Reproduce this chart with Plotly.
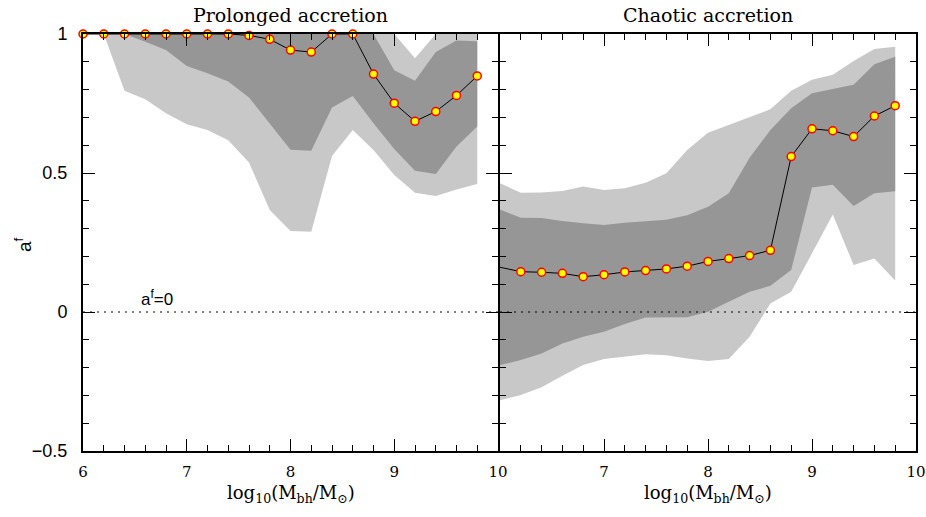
import plotly.graph_objects as go

# ---------------- data ----------------
mass = [6.0, 6.2, 6.4, 6.6, 6.8, 7.0, 7.2, 7.4, 7.6, 7.8,
        8.0, 8.2, 8.4, 8.6, 8.8, 9.0, 9.2, 9.4, 9.6, 9.8]

# Prolonged accretion
pro_median = [1.0, 1.0, 1.0, 1.0, 1.0, 1.0, 1.0, 1.0, 0.995, 0.981,
              0.942, 0.935, 1.0, 1.0, 0.856, 0.751, 0.686, 0.721, 0.779, 0.849]
pro_dark_hi = [1.0, 1.0, 1.0, 1.0, 1.0, 1.0, 1.0, 1.0, 1.0, 1.0,
               1.0, 1.0, 1.0, 1.0, 1.0, 0.870, 0.832, 0.935, 0.977, 0.974]
pro_dark_lo = [1.0, 1.0, 1.0, 0.972, 0.942, 0.885, 0.859, 0.829, 0.772, 0.676,
               0.584, 0.580, 0.736, 0.777, 0.679, 0.586, 0.508, 0.496, 0.595, 0.667]
pro_light_hi = [1.0, 1.0, 1.0, 1.0, 1.0, 1.0, 1.0, 1.0, 1.0, 1.0,
                1.0, 1.0, 1.0, 1.0, 1.0, 1.0, 0.913, 1.0, 1.0, 1.0]
pro_light_lo = [1.0, 1.0, 0.796, 0.765, 0.715, 0.675, 0.655, 0.618, 0.538, 0.367,
                0.291, 0.289, 0.561, 0.655, 0.583, 0.493, 0.429, 0.417, 0.441, 0.460]

# Chaotic accretion
cha_median = [0.161, 0.145, 0.143, 0.139, 0.127, 0.134, 0.144, 0.149, 0.155, 0.165,
              0.182, 0.192, 0.203, 0.222, 0.559, 0.659, 0.652, 0.631, 0.705, 0.742]
cha_dark_hi = [0.369, 0.339, 0.338, 0.327, 0.319, 0.313, 0.321, 0.326, 0.332, 0.348,
               0.379, 0.427, 0.555, 0.655, 0.733, 0.787, 0.801, 0.817, 0.891, 0.918]
cha_dark_lo = [-0.191, -0.173, -0.149, -0.113, -0.089, -0.071, -0.043, -0.020, -0.019, -0.019,
               0.001, 0.037, 0.073, 0.094, 0.151, 0.448, 0.458, 0.381, 0.427, 0.434]
cha_light_hi = [0.463, 0.429, 0.430, 0.435, 0.451, 0.439, 0.445, 0.465, 0.499, 0.583,
                0.645, 0.673, 0.699, 0.729, 0.796, 0.835, 0.853, 0.903, 0.946, 0.954]
cha_light_lo = [-0.317, -0.299, -0.271, -0.229, -0.191, -0.169, -0.161, -0.152, -0.156, -0.167,
                -0.176, -0.169, -0.089, 0.031, 0.073, 0.211, 0.351, 0.169, 0.192, 0.113]

x_tickvals_left = [6, 7, 8, 9, 10]
x_tickvals_right = [7, 8, 9, 10]
y_tickvals = [-0.5, 0, 0.5, 1]
y_ticktext = ["\u22120.5", "0", "0.5", "1"]
panel_titles = ["Prolonged accretion", "Chaotic accretion"]

# ---------------- styles ----------------
LIGHT = "#c8c8c8"
DARK = "#969696"
SERIF = "DejaVu Serif"
SANS = "Liberation Sans"

fig = go.Figure()


def add_panel(xa, ya, med, dhi, dlo, lhi, llo, marker_start):
    for hi, lo, col in [(lhi, llo, LIGHT), (dhi, dlo, DARK)]:
        fig.add_trace(go.Scatter(
            x=mass + mass[::-1], y=hi + lo[::-1], fill="toself",
            fillcolor=col, line=dict(width=0), mode="lines",
            xaxis=xa, yaxis=ya, hoverinfo="skip", showlegend=False))
    fig.add_trace(go.Scatter(
        x=[6, 10], y=[0, 0], mode="lines",
        line=dict(color="black", width=1, dash="2px,5px"),
        xaxis=xa, yaxis=ya, showlegend=False, hoverinfo="skip"))
    fig.add_trace(go.Scatter(
        x=mass, y=med, mode="lines", line=dict(color="black", width=1),
        xaxis=xa, yaxis=ya, showlegend=False, cliponaxis=False))
    fig.add_trace(go.Scatter(
        x=mass[marker_start:], y=med[marker_start:], mode="markers",
        marker=dict(size=8, color="yellow", line=dict(color="red", width=1.5)),
        xaxis=xa, yaxis=ya, showlegend=False, cliponaxis=False))


add_panel("x", "y", pro_median, pro_dark_hi, pro_dark_lo, pro_light_hi, pro_light_lo, 0)
add_panel("x2", "y2", cha_median, cha_dark_hi, cha_dark_lo, cha_light_hi, cha_light_lo, 1)

W, H = 926, 517
ML, MR, MT, MB = 83, 10, 34, 66
PW = W - ML - MR
split_l = (498 - ML) / PW
split_r = (500 - ML) / PW

common_x = dict(range=[6, 10], ticks="inside", ticklen=12, tickwidth=1, tickcolor="black",
                showline=True, linewidth=2, linecolor="black", mirror="allticks",
                showgrid=False, zeroline=False, automargin=False,
                minor=dict(dtick=0.2, ticklen=6, ticks="inside", tickcolor="black",
                           tickwidth=1, showgrid=False),
                tickfont=dict(family=SERIF, size=15, color="black"),
                ticklabelstandoff=6)
common_y = dict(range=[-0.5, 1], ticks="inside", ticklen=12, tickwidth=1, tickcolor="black",
                showline=True, linewidth=2, linecolor="black", mirror="allticks",
                showgrid=False, zeroline=False, automargin=False,
                tickvals=y_tickvals, ticktext=y_ticktext,
                minor=dict(dtick=0.1, ticklen=6, ticks="inside", tickcolor="black",
                           tickwidth=1, showgrid=False),
                tickfont=dict(family=SANS, size=18, color="black"),
                ticklabelstandoff=10)

fig.update_layout(
    width=W, height=H, autosize=False,
    margin=dict(l=ML, r=MR, t=MT, b=MB, autoexpand=False),
    plot_bgcolor="white", paper_bgcolor="white",
    xaxis=dict(domain=[0, split_l], anchor="y", tickvals=x_tickvals_left,
               ticktext=[str(v) for v in x_tickvals_left], **common_x),
    xaxis2=dict(domain=[split_r, 1], anchor="y2", tickvals=x_tickvals_right,
                ticktext=[str(v) for v in x_tickvals_right], **common_x),
    yaxis=dict(domain=[0, 1], anchor="x", **common_y),
    yaxis2=dict(domain=[0, 1], anchor="x2", showticklabels=False, **common_y),
)

xlabel = "log<sub>10</sub>(M<sub>bh</sub>/M<sub>\u2299</sub>)"
ann = []
for i, t in enumerate(panel_titles):
    ax = "x" if i == 0 else "x2"
    ann.append(dict(text=t, x=8, xref=ax, y=1.046, yref="paper", showarrow=False,
                    xanchor="center", yanchor="middle",
                    font=dict(family=SERIF, size=19, color="black")))
    ann.append(dict(text=xlabel, x=8, xref=ax, y=-0.104, yref="paper", showarrow=False,
                    xanchor="center", yanchor="middle",
                    font=dict(family=SERIF, size=18, color="black")))
ann.append(dict(text="a<sup>f</sup>", x=-0.072, xref="paper", y=0.494, yref="paper",
                textangle=-90, showarrow=False, xanchor="center", yanchor="middle",
                font=dict(family=SANS, size=19, color="black")))
ann.append(dict(text="a<sup>f</sup>=0", x=6.71, xref="x", y=0.05, yref="y",
                showarrow=False, xanchor="center", yanchor="middle",
                font=dict(family=SANS, size=17, color="black")))
fig.update_layout(annotations=ann)

fig.write_html("out.html", config={"responsive": False})
